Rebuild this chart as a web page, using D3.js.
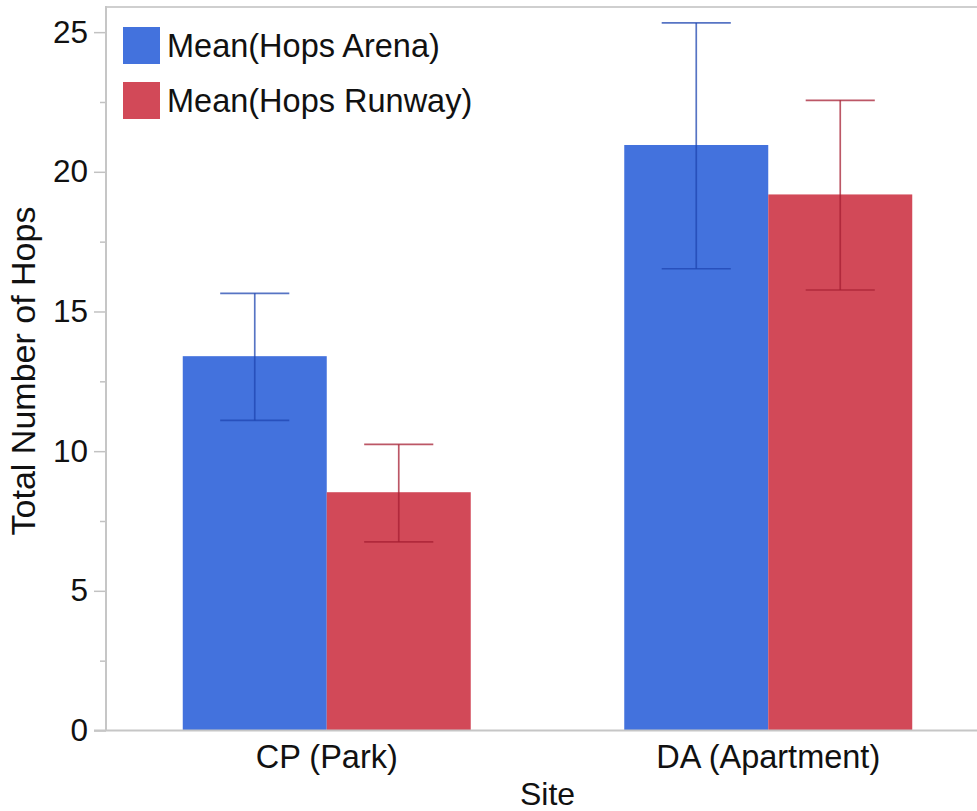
<!DOCTYPE html>
<html>
<head>
<meta charset="utf-8">
<script src="https://cdn.jsdelivr.net/npm/d3@7"></script>
<style>
  html, body { margin: 0; padding: 0; background: #fff; }
  svg { display: block; font-family: "Liberation Sans", Arial, Helvetica, sans-serif; }
</style>
</head>
<body>
<svg id="chart" width="977" height="811"></svg>
<script>
const categories = ["CP (Park)", "DA (Apartment)"];
const seriesNames = ["Mean(Hops Arena)", "Mean(Hops Runway)"];
const arenaMean = [13.40, 20.96];
const arenaLow  = [11.10, 16.53];
const arenaHigh = [15.65, 25.33];
const runwayMean = [8.53, 19.19];
const runwayLow  = [6.75, 15.77];
const runwayHigh = [10.24, 22.56];
const yTicks = [0, 5, 10, 15, 20, 25];
const yMinorTicks = [2.5, 7.5, 12.5, 17.5, 22.5];
const xTitle = "Site";
const yTitle = "Total Number of Hops";

(function () {
const colors = ["#4372DD", "#D24958"];
const errColors = ["#1f45b0", "#a51f33"];

const svg = d3.select("#chart");
const pLeft = 106, pRight = 989, pTop = 7, pBottom = 730.5;

const y = d3.scaleLinear().domain([0, 25.9]).range([pBottom, pTop]);
const x = d3.scaleBand().domain(categories).range([pLeft, pRight])
  .paddingInner(0.3477).paddingOuter(0.3477 / 2);
const xs = d3.scaleBand().domain(seriesNames).range([0, x.bandwidth()]).padding(0);

const data = [];
categories.forEach((c, i) => {
  data.push({cat: c, s: seriesNames[0], v: arenaMean[i], lo: arenaLow[i], hi: arenaHigh[i], k: 0});
  data.push({cat: c, s: seriesNames[1], v: runwayMean[i], lo: runwayLow[i], hi: runwayHigh[i], k: 1});
});

// frame top line
svg.append("line").attr("x1", pLeft).attr("x2", 977).attr("y1", pTop).attr("y2", pTop)
  .attr("stroke", "#cfcfcf").attr("stroke-width", 2);

// bars
svg.append("g").selectAll("rect").data(data).join("rect")
  .attr("x", d => x(d.cat) + xs(d.s))
  .attr("width", xs.bandwidth())
  .attr("y", d => y(d.v))
  .attr("height", d => y(0) - y(d.v))
  .attr("fill", d => colors[d.k]);

// error bars
const capW = xs.bandwidth() * 0.48;
const cx = d => x(d.cat) + xs(d.s) + xs.bandwidth() / 2;
const eg = svg.append("g").selectAll("g").data(data).join("g")
  .attr("stroke", d => errColors[d.k]).attr("stroke-opacity", 0.75).attr("stroke-width", 1.7);
eg.append("line")
  .attr("x1", cx).attr("x2", cx)
  .attr("y1", d => y(d.lo)).attr("y2", d => y(d.hi));
eg.append("line")
  .attr("x1", d => cx(d) - capW / 2).attr("x2", d => cx(d) + capW / 2)
  .attr("y1", d => y(d.hi)).attr("y2", d => y(d.hi));
eg.append("line")
  .attr("x1", d => cx(d) - capW / 2).attr("x2", d => cx(d) + capW / 2)
  .attr("y1", d => y(d.lo)).attr("y2", d => y(d.lo));

// y axis
const yAxis = d3.axisLeft(y).tickValues(yTicks).tickSize(12).tickPadding(6).tickFormat(d3.format("d"));
const ya = svg.append("g").attr("transform", `translate(${pLeft},0)`).call(yAxis);
ya.select(".domain").remove();
ya.selectAll(".tick line").attr("stroke", "#c2c2c2").attr("stroke-width", 1.5);
ya.selectAll(".tick text").attr("font-size", 31.5).attr("fill", "#111")
  .attr("font-family", "Liberation Sans, Arial, sans-serif");
const yMinor = d3.axisLeft(y).tickValues(yMinorTicks).tickSize(6).tickFormat("");
const ym = svg.append("g").attr("transform", `translate(${pLeft},0)`).call(yMinor);
ym.select(".domain").remove();
ym.selectAll(".tick line").attr("stroke", "#c2c2c2").attr("stroke-width", 1.5);

svg.append("line").attr("x1", pLeft).attr("x2", pLeft).attr("y1", pTop - 1).attr("y2", pBottom)
  .attr("stroke", "#c6c6c6").attr("stroke-width", 2);

// x axis
const xAxis = d3.axisBottom(x).tickSize(0).tickPadding(14);
const xa = svg.append("g").attr("transform", `translate(0,${pBottom})`).call(xAxis);
xa.select(".domain").remove();
xa.selectAll(".tick text").attr("font-size", 32.5).attr("fill", "#111")
  .attr("font-family", "Liberation Sans, Arial, sans-serif");
svg.append("line").attr("x1", pLeft - 12).attr("x2", 977).attr("y1", pBottom).attr("y2", pBottom)
  .attr("stroke", "#c6c6c6").attr("stroke-width", 2);

// axis titles
svg.append("text").attr("x", (pLeft + pRight) / 2).attr("y", 805)
  .attr("text-anchor", "middle").attr("font-size", 32).attr("fill", "#111").text(xTitle);
svg.append("text").attr("transform", "translate(35,371) rotate(-90)")
  .attr("text-anchor", "middle").attr("font-size", 34).attr("fill", "#111").text(yTitle);

// legend
const lg = svg.append("g").selectAll("g").data(seriesNames).join("g")
  .attr("transform", (d, i) => `translate(123,${27 + i * 55})`);
lg.append("rect").attr("width", 37).attr("height", 37)
  .attr("fill", (d, i) => colors[i]);
lg.append("text").attr("x", 44).attr("y", 30).attr("font-size", 32.5).attr("fill", "#111").text(d => d);
})();
</script>
</body>
</html>
